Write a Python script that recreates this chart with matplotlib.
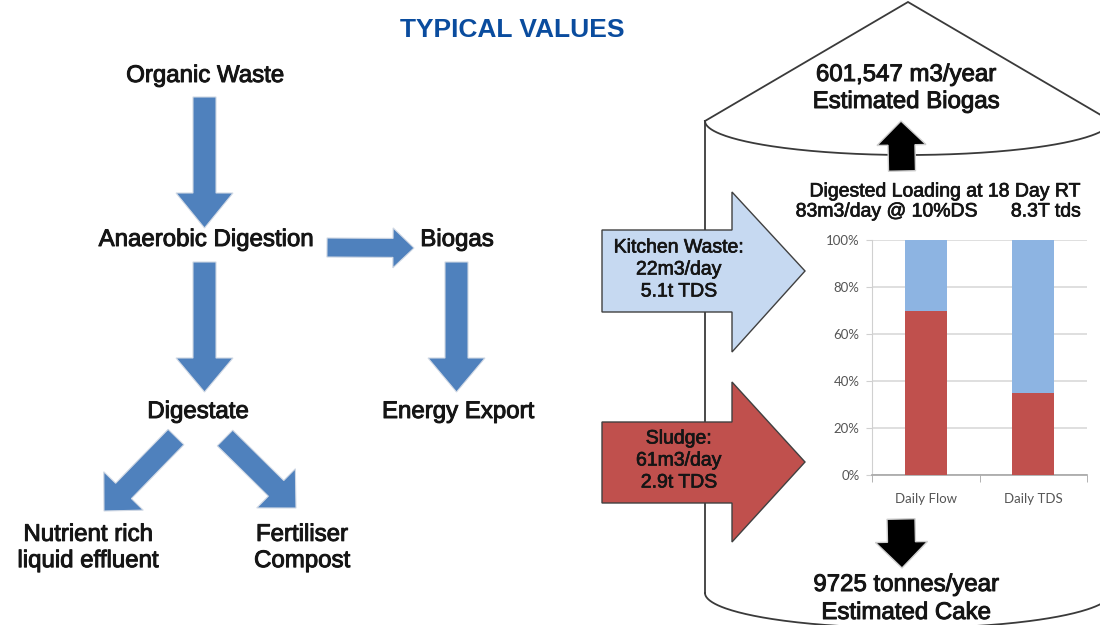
import matplotlib
matplotlib.use('Agg')
import matplotlib.pyplot as plt
import matplotlib.patheffects as pe
import numpy as np
from matplotlib.patches import Polygon

# ---- data ----
categories = ['Daily Flow', 'Daily TDS']
sludge_pct = [70, 35]
kitchen_pct = [30, 65]
y_ticks = [0, 20, 40, 60, 80, 100]
y_tick_labels = ['0%', '20%', '40%', '60%', '80%', '100%']

title = 'TYPICAL VALUES'
flow_labels = ['Organic Waste', 'Anaerobic Digestion', 'Biogas', 'Digestate',
               'Energy Export', 'Nutrient rich\nliquid effluent', 'Fertiliser\nCompost']
kitchen_text = ['Kitchen Waste:', '22m3/day', '5.1t TDS']
sludge_text = ['Sludge:', '61m3/day', '2.9t TDS']
biogas_text = ['601,547 m3/year', 'Estimated Biogas']
cake_text = ['9725 tonnes/year', 'Estimated Cake']
loading_title = 'Digested Loading at 18 Day RT'
loading_flow = '83m3/day @ 10%DS'
loading_tds = '8.3T tds'

BLUE = '#4F81BD'
RED = '#C0504D'
LBLUE = '#C6D9F1'
BARBLUE = '#8DB4E2'
FONT = ['Liberation Sans', 'DejaVu Sans']
TXT = '#151515'
bold_fx = [pe.withStroke(linewidth=0.7, foreground=TXT)]

fig = plt.figure(figsize=(11, 6.25), dpi=100)
ax = fig.add_axes([0, 0, 1, 1])
ax.set_xlim(0, 1100)
ax.set_ylim(625, 0)
ax.axis('off')


def arrow_poly(tail, tip, sw, hw, hl):
    tail = np.array(tail, float)
    tip = np.array(tip, float)
    d = tip - tail
    u = d / np.linalg.norm(d)
    n = np.array([-u[1], u[0]])
    base = tip - u * hl
    return [tail + n * sw / 2, base + n * sw / 2, base + n * hw / 2, tip,
            base - n * hw / 2, base - n * sw / 2, tail - n * sw / 2]


def draw_arrow(tail, tip, sw, hw, hl, fc, ec='none', lw=0, z=3):
    p = Polygon(arrow_poly(tail, tip, sw, hw, hl), closed=True, facecolor=fc,
                edgecolor=ec, linewidth=lw, zorder=z, joinstyle='miter')
    ax.add_patch(p)


# ---- title ----
ax.text(512, 30, title, ha='center', va='center', fontsize=19,
        fontweight='bold', color='#0A4C9E', family=FONT)

# ---- left flow diagram ----
tkw = dict(ha='center', va='center', fontsize=17.3, color=TXT, family=FONT,
           linespacing=1.25, path_effects=bold_fx)
ax.text(205, 76, flow_labels[0], **tkw)
ax.text(206, 240, flow_labels[1], **tkw)
ax.text(457, 240, flow_labels[2], **tkw)
ax.text(198, 412, flow_labels[3], **tkw)
ax.text(458, 412, flow_labels[4], **tkw)
ax.text(88, 548, flow_labels[5], **tkw)
ax.text(302, 548, flow_labels[6], **tkw)

draw_arrow((204.5, 97), (204.5, 228), 23, 57, 35, BLUE, ec='#d0d8e4', lw=0.8)
draw_arrow((204.5, 262), (204.5, 392), 23, 57, 34, BLUE, ec='#d0d8e4', lw=0.8)
draw_arrow((327, 247.5), (414, 248), 19, 40, 21, BLUE, ec='#d0d8e4', lw=0.8)
draw_arrow((456.5, 262), (456.5, 392), 23, 57, 34, BLUE, ec='#d0d8e4', lw=0.8)
draw_arrow((176, 437), (104, 511), 22, 55, 28, BLUE, ec='#d0d8e4', lw=0.8)
draw_arrow((225, 438), (296, 508), 22, 55, 28, BLUE, ec='#d0d8e4', lw=0.8)

# ---- silo ----
LC = '#3a3a3a'
ax.plot([705, 908, 1111], [121, 2, 121], color=LC, lw=1.3, zorder=1,
        solid_joinstyle='miter')
t = np.linspace(0, np.pi, 200)
ax.plot(908 + 203 * np.cos(t), 121 + 34 * np.sin(t), color=LC, lw=1.3, zorder=1)
ax.plot([705, 705], [121, 593], color=LC, lw=1.3, zorder=1)
ax.plot([1111, 1111], [121, 593], color=LC, lw=1.3, zorder=1)
ax.plot(908 + 203 * np.cos(t), 593 + 35 * np.sin(t), color=LC, lw=1.3, zorder=1)

skw = dict(ha='center', va='center', fontsize=17.3, color=TXT, family=FONT,
           path_effects=bold_fx)
ax.text(906, 75, biogas_text[0], **skw)
ax.text(906, 102, biogas_text[1], **skw)
ax.text(906, 585, cake_text[0], **skw)
ax.text(906, 613, cake_text[1], **skw)

draw_arrow((902, 171), (901, 121), 27, 49, 24, 'black', ec='#cfcfcf', lw=1, z=4)
draw_arrow((901, 519), (902, 568), 28, 52, 26, 'black', ec='#cfcfcf', lw=1, z=4)

mfx = [pe.withStroke(linewidth=0.5, foreground=TXT)]
mkw = dict(ha='center', va='center', fontsize=14, color=TXT, family=FONT,
           path_effects=mfx)
ax.text(946, 192, loading_title, **mkw)
ax.text(887, 212, loading_flow, **mkw)
ax.text(1046, 212, loading_tds, **mkw)

# feed arrows
kpts = [(602, 230), (732, 230), (732, 192), (805, 271), (732, 352), (732, 312), (602, 312)]
spts = [(602, 422), (732, 422), (732, 382), (805, 462), (732, 542), (732, 503), (602, 503)]
ax.add_patch(Polygon(kpts, closed=True, facecolor=LBLUE, edgecolor='#404040',
                     lw=1.0, zorder=3, joinstyle='miter'))
ax.add_patch(Polygon(spts, closed=True, facecolor=RED, edgecolor='#404040',
                     lw=1.0, zorder=3, joinstyle='miter'))
for i, s in enumerate(kitchen_text):
    ax.text(679, 248 + 22 * i, s, zorder=5, **mkw)
for i, s in enumerate(sludge_text):
    ax.text(679, 439 + 22 * i, s, zorder=5, **mkw)

# ---- stacked bar chart ----
bx = fig.add_axes([872 / 1100, 1 - 475 / 625, 215 / 1100, 235 / 625])
bx.set_facecolor('none')
x = np.arange(len(categories))
bx.bar(x, sludge_pct, width=0.39, color=RED, zorder=3)
bx.bar(x, kitchen_pct, width=0.39, bottom=sludge_pct, color=BARBLUE, zorder=3)
bx.set_xlim(-0.5, len(categories) - 0.5)
bx.set_ylim(0, 100)
bx.set_yticks(y_ticks)
bx.set_yticklabels(y_tick_labels)
bx.set_xticks(x)
bx.set_xticklabels(categories)
bx.set_xticks([-0.5, 0.5, 1.5], minor=True)
bx.yaxis.grid(True, color='#d9d9d9', lw=1.2, zorder=0)
for s in ['top', 'right']:
    bx.spines[s].set_visible(False)
bx.spines['left'].set_color('#d0d0d0')
bx.spines['bottom'].set_color('#a6a6a6')
bx.spines['bottom'].set_linewidth(1.2)
bx.tick_params(axis='y', length=4, color='#d0d0d0', pad=5, labelsize=9.5,
               labelcolor='#555555', labelfontfamily='Lato')
bx.tick_params(axis='x', which='major', length=0, pad=13, labelsize=9.5,
               labelcolor='#555555', labelfontfamily='Lato')
bx.tick_params(axis='x', which='minor', length=5, color='#a6a6a6')

fig.savefig('out.png', dpi=100)
